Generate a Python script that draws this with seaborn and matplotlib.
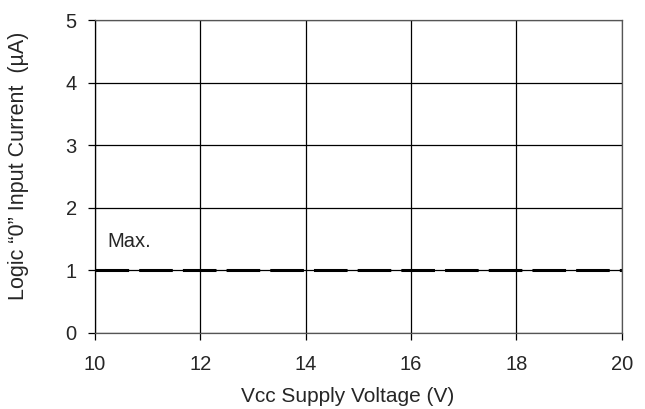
import numpy as np
import pandas as pd
import matplotlib
matplotlib.use("Agg")
import matplotlib.pyplot as plt
import seaborn as sns

# Data
vcc = [10, 20]
i_max = [1.0, 1.0]
x_ticks = [10, 12, 14, 16, 18, 20]
y_ticks = [0, 1, 2, 3, 4, 5]

df = pd.DataFrame({"vcc": vcc, "current": i_max})

sns.set_style("white")
plt.rcParams['font.family'] = ['Liberation Sans', 'DejaVu Sans']

fig = plt.figure(figsize=(6.45, 4.09), dpi=100)
ax = fig.add_axes([0.147, 0.186, 0.817, 0.765])

sns.lineplot(data=df, x="vcc", y="current", ax=ax, color="black",
             linewidth=2.2, dashes=False)
ax.lines[0].set_dashes([11, 3.3])

ax.set_xlim(10, 20)
ax.set_ylim(0, 5)
ax.set_xticks(x_ticks)
ax.set_yticks(y_ticks)
ax.grid(True, color="black", linewidth=0.9)
ax.set_axisbelow(True)
for s in ax.spines.values():
    s.set_color("black")
    s.set_linewidth(0.9)
ax.spines["top"].set_color("#555555")
ax.spines["bottom"].set_color("#555555")
ax.spines["right"].set_color("#555555")

ax.tick_params(axis="both", direction="out", length=5, width=0.9,
               color="black", labelsize=14.5)
ax.tick_params(axis="x", bottom=True, pad=11)
ax.tick_params(axis="y", left=True, pad=8)

ax.text(10.23, 1.37, "Max.", fontsize=14.5)

ax.set_xlabel("Vcc Supply Voltage (V)", fontsize=15)
ax.xaxis.set_label_coords(0.48, -0.172)
ax.set_ylabel("Logic \u201c0\u201d Input Current  (\u00b5A)", fontsize=15.5)
ax.yaxis.set_label_coords(-0.125, 0.534)

fig.savefig("out.png", dpi=100)
